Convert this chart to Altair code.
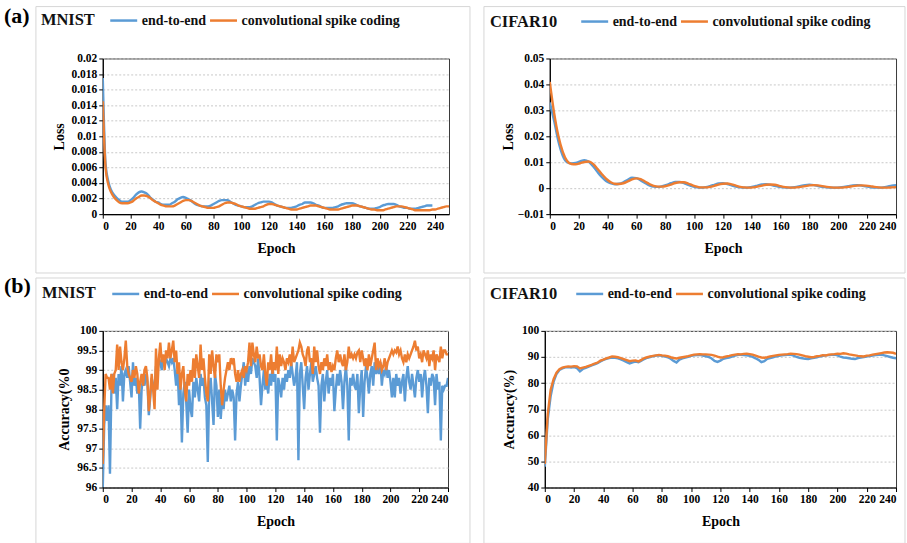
import altair as alt
import pandas as pd

SERIES = ["end-to-end", "convolutional spike coding"]
COLORS = ["#5B9BD5", "#ED7D31"]
FONT = "Liberation Serif"

# ---------------- data ----------------
# MNIST loss, every 2 epochs
mnist_loss_e2e = [
    0.0175, 0.0065, 0.0042, 0.0031, 0.0025, 0.0021, 0.0018, 0.0016, 0.0016, 0.0016,
    0.0018, 0.0021, 0.0025, 0.0028, 0.0029, 0.0028, 0.0026, 0.0022, 0.0019, 0.0016,
    0.0015, 0.0013, 0.0012, 0.0012, 0.0012, 0.0014, 0.0016, 0.0019, 0.0021, 0.0022,
    0.0021, 0.0019, 0.0017, 0.0014, 0.0012, 0.0011, 0.0010, 0.0010, 0.0010, 0.0011,
    0.0013, 0.0015, 0.0017, 0.0018, 0.0018, 0.0018, 0.0016, 0.0014, 0.0012, 0.0011,
    0.0010, 0.0009, 0.0009, 0.0009, 0.0010, 0.0012, 0.0014, 0.0015, 0.0016, 0.0016,
    0.0016, 0.0015, 0.0013, 0.0011, 0.0010, 0.0009, 0.0008, 0.0008, 0.0008, 0.0009,
    0.0010, 0.0012, 0.0013, 0.0015, 0.0015, 0.0015, 0.0014, 0.0012, 0.0011, 0.0009,
    0.0008, 0.0008, 0.0008, 0.0008, 0.0009, 0.0010, 0.0012, 0.0013, 0.0014, 0.0014,
    0.0014, 0.0013, 0.0011, 0.0010, 0.0009, 0.0008, 0.0007, 0.0007, 0.0007, 0.0008,
    0.0009, 0.0011, 0.0012, 0.0013, 0.0013, 0.0013, 0.0012, 0.0010, 0.0009, 0.0008,
    0.0008, 0.0007, 0.0007, 0.0007, 0.0008, 0.0009, 0.0010, 0.0011, 0.0011, 0.0011,
]
mnist_loss_csc = [
    0.0145, 0.0060, 0.0038, 0.0028, 0.0022, 0.0018, 0.0015, 0.0014, 0.0014, 0.0014,
    0.0015, 0.0017, 0.0020, 0.0022, 0.0024, 0.0024, 0.0023, 0.0021, 0.0018, 0.0016,
    0.0014, 0.0012, 0.0011, 0.0010, 0.0010, 0.0010, 0.0011, 0.0013, 0.0015, 0.0017,
    0.0018, 0.0018, 0.0017, 0.0015, 0.0013, 0.0011, 0.0010, 0.0009, 0.0008, 0.0008,
    0.0008, 0.0009, 0.0010, 0.0012, 0.0014, 0.0015, 0.0015, 0.0014, 0.0013, 0.0011,
    0.0010, 0.0009, 0.0008, 0.0007, 0.0007, 0.0007, 0.0008, 0.0009, 0.0010, 0.0012,
    0.0013, 0.0013, 0.0012, 0.0011, 0.0010, 0.0009, 0.0008, 0.0007, 0.0006, 0.0006,
    0.0006, 0.0007, 0.0008, 0.0009, 0.0010, 0.0011, 0.0011, 0.0011, 0.0010, 0.0009,
    0.0008, 0.0007, 0.0006, 0.0006, 0.0006, 0.0006, 0.0007, 0.0008, 0.0009, 0.0010,
    0.0011, 0.0011, 0.0011, 0.0010, 0.0009, 0.0008, 0.0007, 0.0006, 0.0006, 0.0005,
    0.0005, 0.0005, 0.0006, 0.0007, 0.0008, 0.0009, 0.0010, 0.0010, 0.0010, 0.0009,
    0.0008, 0.0007, 0.0006, 0.0005, 0.0005, 0.0005, 0.0005, 0.0005, 0.0005, 0.0006,
    0.0006, 0.0007, 0.0008, 0.0009, 0.0010, 0.0010,
]
# CIFAR10 loss, every 3 epochs
cifar_loss_e2e = [
    0.0330, 0.0260, 0.0180, 0.0125, 0.0100, 0.0095, 0.0097, 0.0103, 0.0108, 0.0102,
    0.0085, 0.0063, 0.0043, 0.0028, 0.0019, 0.0015, 0.0017, 0.0023, 0.0032, 0.0040,
    0.0039, 0.0030, 0.0020, 0.0011, 0.0006, 0.0005, 0.0008, 0.0013, 0.0019, 0.0024,
    0.0024, 0.0020, 0.0013, 0.0007, 0.0003, 0.0002, 0.0004, 0.0008, 0.0013, 0.0018,
    0.0019, 0.0016, 0.0011, 0.0006, 0.0003, 0.0002, 0.0003, 0.0006, 0.0010, 0.0014,
    0.0015, 0.0013, 0.0009, 0.0005, 0.0003, 0.0002, 0.0003, 0.0005, 0.0009, 0.0012,
    0.0013, 0.0012, 0.0008, 0.0005, 0.0003, 0.0002, 0.0002, 0.0003, 0.0005, 0.0008,
    0.0011, 0.0012, 0.0010, 0.0007, 0.0004, 0.0002, 0.0002, 0.0003, 0.0006, 0.0010,
    0.0012,
]
cifar_loss_csc = [
    0.0410, 0.0290, 0.0200, 0.0140, 0.0105, 0.0093, 0.0092, 0.0096, 0.0101, 0.0103,
    0.0094, 0.0075, 0.0055, 0.0037, 0.0024, 0.0017, 0.0016, 0.0019, 0.0026, 0.0034,
    0.0038, 0.0035, 0.0026, 0.0016, 0.0009, 0.0006, 0.0006, 0.0009, 0.0014, 0.0020,
    0.0023, 0.0023, 0.0018, 0.0011, 0.0006, 0.0003, 0.0003, 0.0005, 0.0009, 0.0014,
    0.0017, 0.0018, 0.0015, 0.0010, 0.0005, 0.0003, 0.0002, 0.0003, 0.0006, 0.0010,
    0.0013, 0.0014, 0.0013, 0.0009, 0.0005, 0.0003, 0.0002, 0.0003, 0.0005, 0.0008,
    0.0011, 0.0012, 0.0011, 0.0008, 0.0005, 0.0003, 0.0002, 0.0002, 0.0003, 0.0005,
    0.0008, 0.0010, 0.0011, 0.0010, 0.0008, 0.0005, 0.0003, 0.0002, 0.0002, 0.0003,
    0.0004,
]
# MNIST accuracy (%), every epoch
mnist_acc_e2e = [
    96.0, 97.6, 98.1, 97.7, 98.1, 96.35, 98.5, 98.9, 98.4, 98.8,
    98.0, 98.9, 98.6, 99.1, 98.2, 98.9, 99.0, 98.8, 99.1, 98.7,
    98.3, 99.2, 98.6, 98.8, 98.4, 98.7, 97.5, 98.5, 98.8, 98.6,
    98.9, 98.7, 97.85, 98.3, 98.8, 98.6, 98.5, 99.1, 98.9, 99.3,
    99.2, 99.0, 99.3, 99.1, 99.3, 99.2, 99.1, 99.3, 99.2, 99.3,
    99.0, 98.6, 99.0, 98.1, 98.6, 97.15, 98.4, 98.7, 98.2, 97.4,
    98.5, 98.0, 97.8, 98.7, 98.3, 98.8, 98.5, 98.2, 98.9, 98.6,
    98.8, 98.3, 98.1, 96.65, 98.5, 98.8, 98.2, 97.6, 98.9, 98.6,
    97.8, 98.5, 97.75, 98.3, 98.0, 98.5, 98.2, 98.4, 98.6, 98.2,
    98.5, 98.3, 97.2, 98.4, 98.7, 98.2, 98.6, 98.9, 99.2, 98.6,
    99.0, 98.7, 99.1, 98.9, 99.3, 99.2, 99.1, 98.8, 99.3, 98.8,
    98.1, 98.6, 99.0, 98.5, 98.7, 98.4, 98.9, 98.6, 99.1, 98.7,
    98.9, 97.2, 98.8, 98.6, 98.3, 98.8, 98.5, 98.9, 98.7, 99.0,
    98.8, 99.2, 98.9, 98.6, 98.8, 99.2, 96.7, 98.9, 99.2, 98.6,
    98.0, 98.8, 99.1, 98.5, 98.9, 99.2, 98.7, 98.9, 99.1, 98.8,
    98.6, 97.4, 98.6, 98.9, 98.2, 98.7, 99.0, 98.4, 98.8, 98.6,
    98.9, 97.95, 98.5, 98.9, 98.6, 99.0, 98.7, 98.0, 98.7, 99.1,
    98.6, 97.2, 98.8, 98.6, 98.9, 98.6, 98.5, 98.9, 97.9, 98.6,
    99.0, 97.8, 98.7, 99.1, 98.8, 98.4, 98.9, 99.1, 98.6, 99.2,
    98.9, 99.1, 98.9, 99.2, 98.6, 99.0, 98.9, 99.1, 98.8, 99.0,
    98.7, 98.3, 98.8, 98.3, 98.9, 98.6, 98.8, 98.4, 98.7, 98.9,
    98.2, 98.8, 99.1, 98.7, 98.5, 98.9, 98.6, 98.3, 98.8, 99.0,
    98.7, 98.9, 98.3, 98.8, 99.0, 98.6, 97.9, 98.8, 98.6, 98.9,
    98.8, 98.1, 98.9, 98.5, 98.7, 97.2, 98.6, 98.5, 98.6, 98.6,
    98.8,
]
mnist_acc_csc = [
    96.6, 98.0, 98.9, 98.8, 98.8, 98.5, 98.9, 98.4, 98.9, 99.0,
    99.65, 99.0, 99.6, 99.2, 99.0, 99.3, 99.75, 99.1, 98.9, 98.8,
    98.7, 99.0, 98.8, 99.1, 98.9, 98.4, 98.7, 98.9, 98.6, 99.0,
    99.1, 98.8, 97.95, 98.4, 98.9, 98.5, 98.0, 99.55, 98.5, 99.3,
    99.7, 99.2, 99.4, 99.0, 99.5, 99.3, 99.7, 99.3, 99.5, 99.75,
    99.2, 99.5, 98.9, 99.2, 98.5, 98.9, 99.1, 98.5, 98.2, 98.9,
    98.6, 99.0, 98.7, 99.3, 98.8, 99.4, 99.1, 98.8, 99.65, 99.0,
    99.3, 98.8, 98.4, 98.2, 99.4, 98.9, 99.5, 99.1, 98.8, 99.4,
    99.2, 99.4, 98.6, 98.1, 98.5, 98.8, 99.0, 99.2, 99.0, 99.3,
    99.2, 99.3, 98.9, 98.7, 99.0, 98.7, 98.9, 99.0, 98.8, 99.1,
    99.0, 99.2, 99.7, 99.1, 99.7, 99.4, 99.2, 99.6, 99.3, 99.4,
    99.1, 99.0, 99.4, 98.9, 98.6, 99.2, 99.0, 99.4, 98.9, 99.2,
    99.0, 99.6, 98.9, 99.4, 99.1, 99.3, 99.2, 99.0, 99.3, 99.2,
    99.4, 99.1, 99.6, 99.2, 99.3, 99.4, 99.5, 99.7, 99.6, 99.4,
    99.3, 99.1, 99.5, 99.6, 99.2, 99.3, 98.9, 99.6, 99.2, 99.5,
    99.1, 98.9, 99.2, 99.0, 99.3, 99.1, 99.4, 99.0, 99.2, 98.95,
    99.1, 99.0, 99.3, 99.5, 99.2, 99.4, 99.2, 99.1, 99.4, 99.0,
    99.2, 99.6, 99.3, 99.4, 99.3, 99.4, 99.3, 99.45, 99.5, 99.2,
    99.5, 99.3, 99.1, 99.3, 99.0, 99.4, 99.1, 99.3, 99.5, 99.7,
    99.0, 99.3, 99.1, 99.2, 99.0, 99.1, 99.3, 99.0, 99.2, 99.3,
    99.4, 99.5, 99.4, 99.5, 99.45, 99.6, 99.4, 99.5, 99.3, 99.2,
    99.4, 99.2, 99.4, 99.3, 99.4, 99.5, 99.6, 99.75, 99.5, 99.6,
    99.3, 99.4, 99.2, 99.5, 99.4, 99.3, 99.5, 99.1, 99.4, 99.3,
    99.5, 99.0, 99.4, 99.3, 99.2, 99.6, 99.3, 99.5, 99.5, 99.4,
    99.4,
]
# CIFAR10 accuracy (%), every 2 epochs
cifar_acc_e2e = [
    48.0, 66.0, 75.0, 80.5, 83.5, 85.0, 85.6, 86.0, 86.1, 86.0,
    86.1, 85.7, 84.5, 85.4, 85.8, 86.3, 86.8, 87.2, 87.6, 88.3,
    88.9, 89.3, 89.6, 89.8, 89.7, 89.5, 89.1, 88.6, 88.0, 87.5,
    87.9, 88.2, 88.0, 88.6, 89.2, 89.7, 90.0, 90.3, 90.5, 90.6,
    90.4, 90.2, 89.9, 89.3, 88.5, 87.9, 89.0, 89.5, 89.8, 90.1,
    90.4, 90.6, 90.7, 90.8, 90.5, 90.3, 90.0, 89.4, 88.5, 88.1,
    88.6, 89.3, 89.6, 89.8, 90.1, 90.5, 90.8, 90.9, 90.7, 90.6,
    90.4, 90.0, 89.5, 88.9, 88.0, 88.4, 89.3, 89.6, 89.9, 90.2,
    90.4, 90.6, 90.7, 90.8, 90.9, 90.5, 90.0, 89.7, 89.5, 89.3,
    89.2, 89.5, 89.7, 89.9, 90.2, 90.4, 90.6, 90.7, 90.8, 90.9,
    90.6, 90.1, 89.8, 89.7, 89.5, 89.3, 89.2, 89.6, 89.8, 90.0,
    90.2, 90.4, 90.5, 90.7, 90.8, 90.9, 90.6, 90.3, 90.0, 89.7,
    89.5,
]
cifar_acc_csc = [
    49.0, 68.0, 77.5, 81.5, 84.0, 85.3, 85.9, 86.2, 86.4, 86.3,
    86.5, 86.4, 85.6, 85.9, 86.2, 86.6, 87.0, 87.5, 87.8, 88.6,
    89.0, 89.5, 89.8, 90.2, 90.1, 89.9, 89.6, 89.2, 88.8, 88.4,
    88.6, 88.7, 88.3, 88.9, 89.6, 89.9, 90.2, 90.4, 90.6, 90.8,
    90.6, 90.5, 90.3, 89.9, 89.6, 89.4, 89.7, 89.9, 90.1, 90.3,
    90.6, 90.9, 91.0, 91.1, 91.0, 91.0, 90.9, 90.8, 90.5, 90.1,
    89.8, 89.9, 90.2, 90.4, 90.7, 90.9, 91.1, 91.0, 91.2, 91.3,
    91.1, 90.9, 90.5, 90.1, 89.8, 89.7, 89.9, 90.2, 90.4, 90.6,
    90.8, 90.9, 91.0, 91.1, 91.3, 91.2, 91.1, 90.9, 90.6, 90.3,
    90.1, 89.9, 90.0, 90.3, 90.4, 90.7, 90.6, 90.9, 91.0, 91.1,
    91.3, 91.2, 91.4, 91.3, 91.0, 90.8, 90.6, 90.4, 90.3, 90.2,
    90.5, 90.6, 90.9, 91.1, 91.3, 91.5, 91.7, 91.8, 91.7, 91.6,
    91.2,
]

x_ticks = [0, 20, 40, 60, 80, 100, 120, 140, 160, 180, 200, 220, 240]
mnist_loss_ticks = [0, 0.002, 0.004, 0.006, 0.008, 0.01, 0.012, 0.014, 0.016, 0.018, 0.02]
cifar_loss_ticks = [-0.01, 0, 0.01, 0.02, 0.03, 0.04, 0.05]
mnist_acc_ticks = [96, 96.5, 97, 97.5, 98, 98.5, 99, 99.5, 100]
cifar_acc_ticks = [40, 50, 60, 70, 80, 90, 100]


def long_df(e2e, e2e_step, csc, csc_step):
    rows = []
    for i, v in enumerate(e2e):
        rows.append({"epoch": i * e2e_step, "value": v, "series": SERIES[0]})
    for i, v in enumerate(csc):
        rows.append({"epoch": i * csc_step, "value": v, "series": SERIES[1]})
    return pd.DataFrame(rows)


def panel(df, xmax, ydom, yticks, yfmt, ytitle, ytitle_x, name, w, h, interp,
          legend_xy, name_xy, border, tag=None, canvas=None):
    base = alt.Chart(df)
    lines = base.mark_line(strokeWidth=2.4, interpolate=interp, clip=True).encode(
        x=alt.X("epoch:Q",
                scale=alt.Scale(domain=[0, xmax], nice=False, zero=False),
                axis=alt.Axis(values=x_ticks, title="Epoch", grid=False, titleY=27,
                              format="d")),
        y=alt.Y("value:Q",
                scale=alt.Scale(domain=ydom, nice=False, zero=False),
                axis=alt.Axis(values=yticks, title=ytitle, format=yfmt, grid=True,
                              titleX=ytitle_x)),
        color=alt.Color("series:N",
                        scale=alt.Scale(domain=SERIES, range=COLORS),
                        legend=alt.Legend(orient="none", direction="horizontal",
                                          legendX=legend_xy[0], legendY=legend_xy[1],
                                          title=None)),
        order=alt.Order("epoch:Q"),
    )
    deco_df = pd.DataFrame({"name": [name]})
    deco = alt.Chart(deco_df)
    layers = []
    if canvas is not None:
        layers.append(deco.mark_rect(opacity=0).encode(
            x=alt.value(canvas[0]), x2=alt.value(canvas[1]),
            y=alt.value(canvas[2]), y2=alt.value(canvas[3])))
    layers.append(deco.mark_rect(filled=False, stroke="#d6d6d6", strokeWidth=1).encode(
        x=alt.value(border[0]), x2=alt.value(border[1]),
        y=alt.value(border[2]), y2=alt.value(border[3])))
    layers.append(deco.mark_text(align="left", baseline="middle", font=FONT,
                                 fontSize=16.5, fontWeight="bold", color="#111").encode(
        x=alt.value(name_xy[0]), y=alt.value(name_xy[1]), text="name:N"))
    if tag is not None:
        tag_df = pd.DataFrame({"t": [tag[0]]})
        layers.append(alt.Chart(tag_df).mark_text(
            align="left", baseline="middle", font=FONT, fontSize=22,
            fontWeight="bold", color="#000").encode(
            x=alt.value(-99), y=alt.value(tag[1]), text="t:N"))
    layers.append(lines)
    return alt.layer(*layers).properties(width=w, height=h)


tl = panel(long_df(mnist_loss_e2e, 2, mnist_loss_csc, 2), 250, [0, 0.02],
           mnist_loss_ticks, ".3~f", "Loss", -36, "MNIST", 347, 156, "monotone",
           (6, -53), (-62, -39), (-67, 368, -52, 215), tag=("(a)", -43),
           canvas=(-102, 805, -57, 486))
tr = panel(long_df(cifar_loss_e2e, 3, cifar_loss_csc, 3), 240, [-0.01, 0.05],
           cifar_loss_ticks, ".2~f", "Loss", -34, "CIFAR10", 347, 156, "monotone",
           (30, -52), (-60, -37), (-66, 356, -52, 215))
bl = panel(long_df(mnist_acc_e2e, 1, mnist_acc_csc, 1), 240, [96, 100],
           mnist_acc_ticks, ".1~f", "Accuracy(%0", -31, "MNIST", 346, 157, "linear",
           (8, -52), (-61, -38), (-67, 368, -53, 213), tag=("(b)", -45))
br = panel(long_df(cifar_acc_e2e, 2, cifar_acc_csc, 2), 240, [40, 100],
           cifar_acc_ticks, "d", "Accuracy(%)", -28, "CIFAR10", 352, 157, "linear",
           (30, -52), (-55, -37), (-61, 361, -53, 213))

row1 = alt.hconcat(tl, tr, spacing=101, bounds="flush").resolve_scale(
    color="independent").resolve_legend(color="independent")
row2 = alt.hconcat(bl, br, spacing=97, bounds="flush").resolve_scale(
    color="independent").resolve_legend(color="independent")

# nested rows count as zero height in a flush layout: spacing = row height + gap
chart = alt.vconcat(row1, row2, spacing=273, bounds="flush").resolve_scale(
    color="independent").resolve_legend(color="independent").properties(
    padding=0, background="white"
).configure_view(
    stroke="#3a3a3a", strokeWidth=1
).configure_axis(
    labelFont=FONT, labelFontSize=11.5, labelFontWeight="bold", labelColor="#000",
    titleFont=FONT, titleFontSize=14, titleFontWeight="bold", titleColor="#000",
    domainColor="#000", domainWidth=1.2, tickColor="#000", tickSize=4,
    labelPadding=2, gridColor="#c8c8c8", gridDash=[2, 2], gridWidth=1,
).configure_legend(
    labelFont=FONT, labelFontSize=14, labelFontWeight="bold", labelColor="#111",
    symbolType="stroke", symbolSize=729, symbolStrokeWidth=2.5, labelOffset=3,
    columnPadding=-2, padding=0, labelLimit=400,
)

chart.save("out.html", embed_options={"renderer": "svg", "actions": False})
